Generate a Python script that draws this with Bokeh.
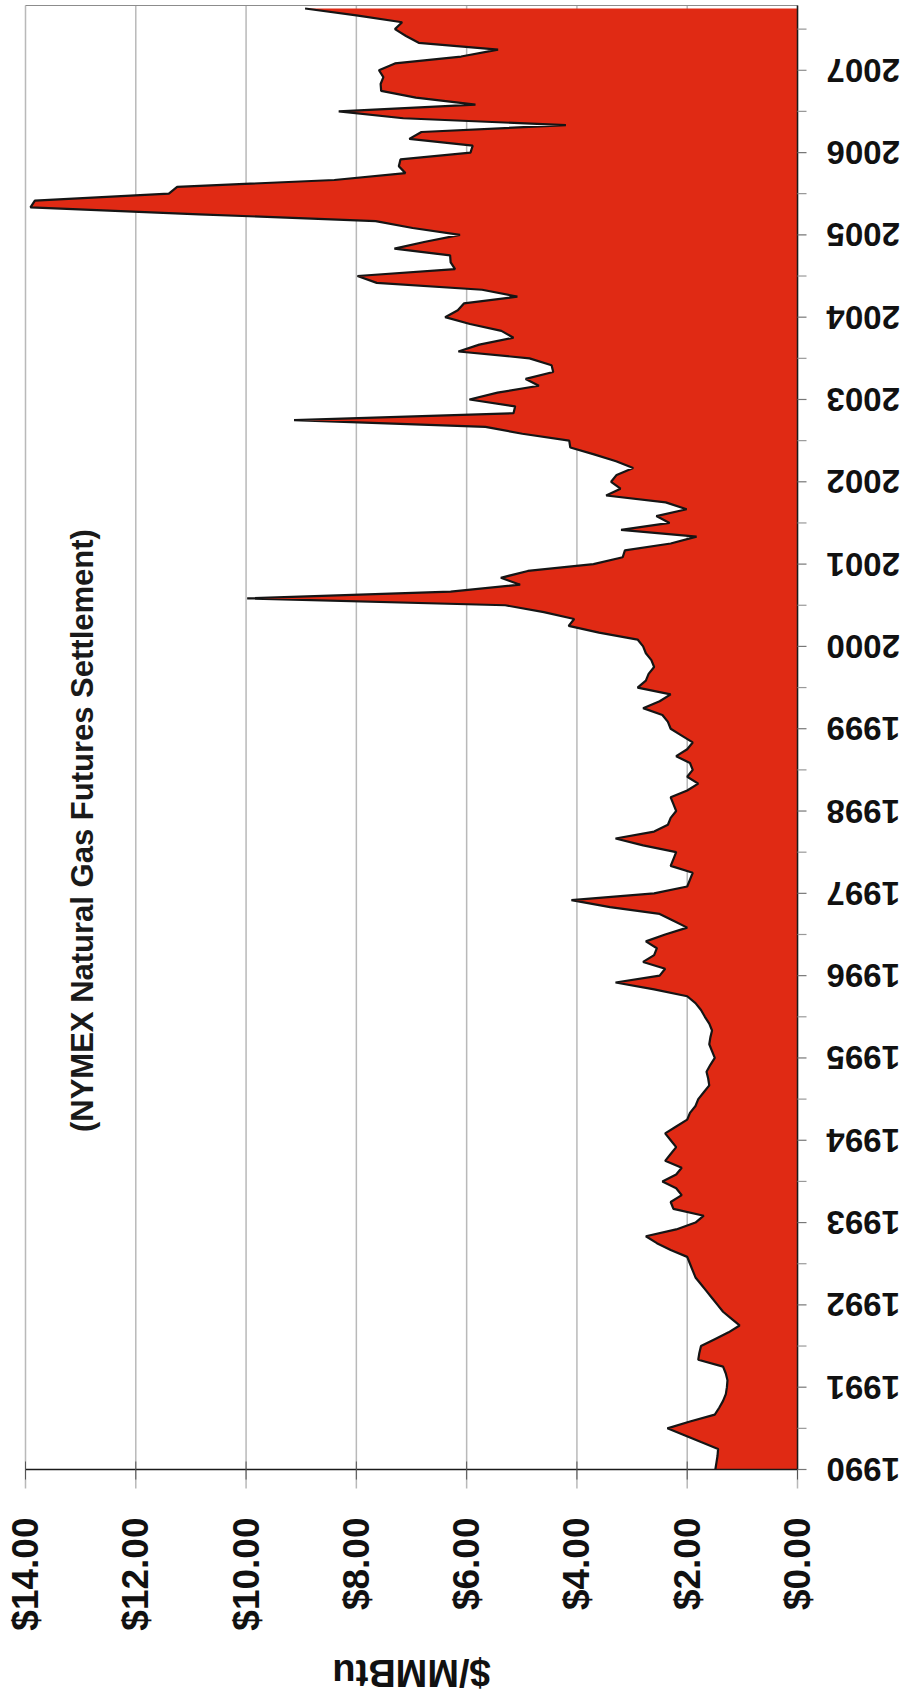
import math
from bokeh.plotting import figure
from bokeh.models import Range1d, ColumnDataSource
from bokeh.core.properties import value
from bokeh.embed import file_html
from bokeh.resources import INLINE

# NYMEX natural gas futures settlement, $/MMBtu, one value per contract month
# (series begins June 1990)
p1990 = [1.49, 1.47, 1.45, 1.44, 1.75, 2.05, 2.36]
p1991 = [1.95, 1.50, 1.42, 1.35, 1.30, 1.28, 1.27, 1.30, 1.35, 1.80, 1.78, 1.75]
p1992 = [1.50, 1.25, 1.05, 1.20, 1.35, 1.45, 1.55, 1.65, 1.75, 1.85, 1.90, 1.95]
p1993 = [2.00, 2.30, 2.55, 2.75, 2.20, 1.85, 1.70, 2.25, 2.30, 2.10, 2.20, 2.45]
p1994 = [2.20, 2.10, 2.40, 2.30, 2.20, 2.30, 2.40, 2.20, 2.00, 1.95, 1.85, 1.80]
p1995 = [1.70, 1.60, 1.62, 1.65, 1.58, 1.50, 1.55, 1.60, 1.58, 1.55, 1.60, 1.68]
p1996 = [1.75, 1.85, 2.00, 2.60, 3.30, 2.50, 2.40, 2.80, 2.60, 2.55, 2.75, 2.40]
p1997 = [2.00, 2.25, 2.50, 3.40, 4.10, 2.60, 2.00, 1.95, 1.90, 2.30, 2.25, 2.20]
p1998 = [2.80, 3.30, 2.60, 2.35, 2.30, 2.20, 2.25, 2.30, 2.00, 1.80, 2.00, 1.90]
p1999 = [1.95, 2.20, 2.00, 1.90, 2.10, 2.30, 2.35, 2.45, 2.80, 2.50, 2.30, 2.90]
p2000 = [2.75, 2.70, 2.60, 2.65, 2.75, 2.80, 2.90, 3.60, 4.15, 4.05, 4.60, 5.30]
p2001 = [9.98, 6.29, 5.03, 5.38, 4.89, 3.70, 3.17, 3.13, 2.30, 1.83, 3.20, 2.32]
p2002 = [2.56, 2.01, 2.39, 3.47, 3.21, 3.38, 3.28, 2.98, 3.29, 3.69, 4.12, 4.14]
p2003 = [4.99, 5.66, 9.13, 5.15, 5.12, 5.95, 5.44, 4.69, 4.93, 4.43, 4.46, 4.86]
p2004 = [6.15, 5.77, 5.15, 5.37, 5.94, 6.39, 6.16, 6.05, 5.08, 5.72, 7.63, 7.98]
p2005 = [6.21, 6.29, 6.30, 7.31, 6.75, 6.12, 6.98, 7.65, 10.85, 13.91, 13.83, 11.40]
p2006 = [11.25, 8.40, 7.11, 7.23, 7.20, 5.93, 5.89, 7.04, 6.82, 4.20, 7.15, 8.32]
p2007 = [5.84, 6.92, 7.55, 7.56, 7.51, 7.59, 7.30, 6.10, 5.43, 6.87, 7.10, 7.30]
p2008 = [7.17, 8.00, 8.93]

prices = (p1990 + p1991 + p1992 + p1993 + p1994 + p1995 + p1996 + p1997 + p1998
          + p1999 + p2000 + p2001 + p2002 + p2003 + p2004 + p2005 + p2006
          + p2007 + p2008)

# category labels: one per month
months = []
yr, mo = 1990, 6
for _ in prices:
    months.append(f"{yr}-{mo:02d}")
    mo += 1
    if mo > 12:
        mo, yr = 1, yr + 1

idx = list(range(len(prices)))
year_ticks = idx[::12]
year_labels = [months[i][:4] for i in year_ticks]
half_ticks = idx[6::12]

price_ticks = [0, 2, 4, 6, 8, 10, 12, 14]
price_labels = ["$0.00", "$2.00", "$4.00", "$6.00", "$8.00", "$10.00", "$12.00", "$14.00"]

RED = "#E02A14"
FONT = "Liberation Sans"
INK = "#111111"

# ---- page geometry (pixels) ----
W, H = 903, 1699
LEFT, RIGHT, TOP, BOTTOM = 25, 106, 5, 230      # plot area inside the page
AREA_W = W - LEFT - RIGHT                        # 772
AREA_H = H - TOP - BOTTOM                        # 1464
P_MAX = 14.0
M_END = len(prices) - 1 + 0.44
kx = AREA_W / P_MAX          # px per dollar
ky = AREA_H / M_END          # px per month


def dx(px):
    """horizontal pixel distance -> dollars (value axis runs right-to-left)"""
    return px / kx


def dy(px):
    """vertical pixel distance -> months"""
    return px / ky


# whole page is the drawing frame; the price scale is reversed (0 on the right)
p = figure(width=W, height=H,
           x_range=Range1d(P_MAX + dx(LEFT), -dx(RIGHT)),
           y_range=Range1d(-dy(BOTTOM), M_END + dy(TOP)),
           x_axis_type=None, y_axis_type=None,
           output_backend="svg", toolbar_location=None, min_border=0)
p.title.visible = False
p.outline_line_color = None
p.background_fill_color = "white"
p.border_fill_color = "white"

src = ColumnDataSource(dict(m=idx, price=prices, month=months))

# vertical price grid lines
p.segment(x0=price_ticks, x1=price_ticks,
          y0=[-dy(19)] * len(price_ticks), y1=[M_END] * len(price_ticks),
          line_color="#b9b9b9", line_width=1.5)
# top border of the plot area
p.segment(x0=[P_MAX], x1=[0], y0=[M_END], y1=[M_END], line_color="#8c8c8c", line_width=1)

# filled area with dark outline
p.harea(y="m", x1=0, x2="price", source=src, fill_color=RED, fill_alpha=1.0)
p.line(x="price", y="m", source=src, line_color="#151515", line_width=2.2)

# value axis along the bottom
p.segment(x0=[P_MAX], x1=[0], y0=[0], y1=[0], line_color="#1a1a1a", line_width=1.5)
p.segment(x0=price_ticks, x1=price_ticks,
          y0=[dy(8)] * len(price_ticks), y1=[-dy(10)] * len(price_ticks),
          line_color="#555555", line_width=1)
p.text(x=price_ticks, y=[-dy(48)] * len(price_ticks), text=price_labels,
       angle=math.pi / 2, text_align="right", text_baseline="middle",
       text_font=value(FONT), text_font_style="bold",
       text_font_size=value("37px"), text_color=INK)
p.text(x=[P_MAX / 2], y=[-dy(203)], text=["$/MMBtu"], angle=math.pi,
       text_align="center", text_baseline="middle",
       text_font=value(FONT), text_font_style="bold",
       text_font_size=value("38px"), text_color=INK)

# time axis along the right side
p.segment(x0=[0], x1=[0], y0=[0], y1=[M_END], line_color="#1a1a1a", line_width=1.5)
p.segment(x0=[0] * len(year_ticks), x1=[-dx(9)] * len(year_ticks),
          y0=year_ticks, y1=year_ticks, line_color="#777777", line_width=1.2)
p.segment(x0=[0] * len(half_ticks), x1=[-dx(9)] * len(half_ticks),
          y0=half_ticks, y1=half_ticks, line_color="#999999", line_width=1.2)
year_src = ColumnDataSource(dict(m=year_ticks, label=year_labels))
p.text(x=-dx(29), y="m", text="label", source=year_src, angle=math.pi,
       text_align="right", text_baseline="middle",
       text_font=value(FONT), text_font_style="bold",
       text_font_size=value("33px"), text_color=INK)

# subtitle inside the plot area
p.text(x=[12.96], y=[93.15], text=["(NYMEX Natural Gas Futures Settlement)"],
       angle=math.pi / 2, text_align="center", text_baseline="middle",
       text_font=value(FONT), text_font_style="bold",
       text_font_size=value("31px"), text_color="#1a1a1a")

open("out.html", "w").write(file_html(p, INLINE))
